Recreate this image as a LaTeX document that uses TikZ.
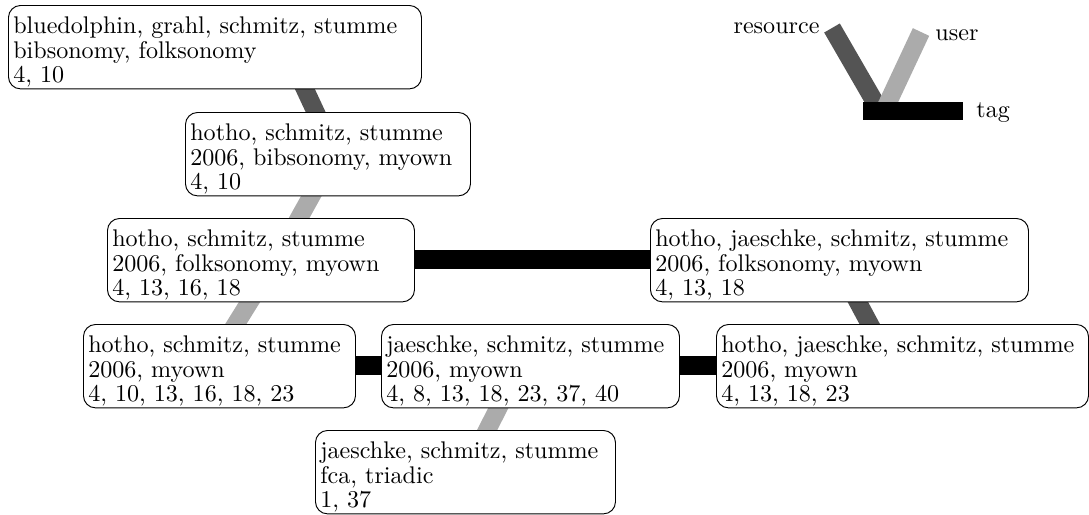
\documentclass[tikz,border=0pt]{standalone}
\definecolor{resgray}{gray}{0.33}
\definecolor{usergray}{gray}{0.67}
\begin{document}
\begin{tikzpicture}[x=0.415pt,y=-0.415pt,
  box/.style={draw, rounded corners=5pt, fill=white, anchor=north west, align=left,
    inner xsep=2pt, inner ysep=0pt, text height=11.8pt, text depth=22.8pt,
    font=\fontsize{10}{10}\selectfont},
  boxw/.style={text width={#1*0.415pt-4pt}},
  rel/.style={line width=7.5pt},
  resource/.style={rel, draw=resgray},
  user/.style={rel, draw=usergray},
  tag/.style={rel, draw=black},
  legendtext/.style={font=\fontsize{10}{10}\selectfont, inner sep=0pt},
]
\useasboundingbox (0,0) rectangle (1089,514);

% lattice points of the concepts
\coordinate (pA) at (285,46.5);
\coordinate (pB) at (335,153.5);
\coordinate (pC) at (276,259.5);
\coordinate (pD) at (835,259.5);
\coordinate (pE) at (210,365.5);
\coordinate (pF) at (520,365.5);
\coordinate (pG) at (892,365.5);
\coordinate (pH) at (466,471.5);

% relations between concepts
\draw[resource] (pA) -- (pB);
\draw[user] (pB) -- (pC);
\draw[tag] (pC) -- (pD);
\draw[user] (pC) -- (pE);
\draw[resource] (pD) -- (pG);
\draw[tag] (pE) -- (pF);
\draw[tag] (pF) -- (pG);
\draw[user] (pF) -- (pH);

% concept boxes: users / tags / resources
\node[box, boxw=413] (A) at (8,5) {bluedolphin, grahl, schmitz, stumme\\bibsonomy, folksonomy\\4, 10};
\node[box, boxw=285] (B) at (185,112) {hotho, schmitz, stumme\\2006, bibsonomy, myown\\4, 10};
\node[box, boxw=307] (C) at (107,218) {hotho, schmitz, stumme\\2006, folksonomy, myown\\4, 13, 16, 18};
\node[box, boxw=378] (D) at (650,218) {hotho, jaeschke, schmitz, stumme\\2006, folksonomy, myown\\4, 13, 18};
\node[box, boxw=272] (E) at (83,324) {hotho, schmitz, stumme\\2006, myown\\4, 10, 13, 16, 18, 23};
\node[box, boxw=298] (F) at (381,324) {jaeschke, schmitz, stumme\\2006, myown\\4, 8, 13, 18, 23, 37, 40};
\node[box, boxw=372] (G) at (716,324) {hotho, jaeschke, schmitz, stumme\\2006, myown\\4, 13, 18, 23};
\node[box, boxw=300] (H) at (315,430) {jaeschke, schmitz, stumme\\fca, triadic\\1, 37};

% legend
\coordinate (lr) at (832,28);
\coordinate (lu) at (921,32);
\coordinate (lrend) at (880,111);
\coordinate (luend) at (884,111);
\coordinate (lt1) at (863,111);
\coordinate (lt2) at (963,111);
\draw[resource] (lr) -- (lrend);
\draw[user] (lu) -- (luend);
\draw[tag] (lt1) -- (lt2);
\node[legendtext, anchor=base east] (lres) at (820,34) {resource};
\node[legendtext, anchor=base west] (lusr) at (935,40) {user};
\node[legendtext, anchor=base west] (ltag) at (976,117) {tag};
\end{tikzpicture}
\end{document}
